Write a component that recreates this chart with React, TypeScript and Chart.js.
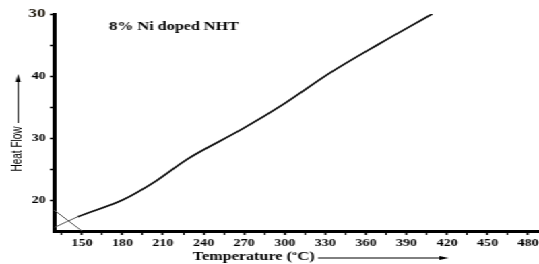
import React, { useEffect, useRef } from "react";
import { Chart, registerables } from "chart.js";

Chart.register(...registerables);

// ---- data ----
const temps = [130, 147, 180, 205, 228, 269, 300, 333.5, 370, 409];
const heatFlow = [15.6, 17.3, 20.0, 23.1, 26.6, 31.5, 35.6, 40.5, 45.2, 50.0];

// thin baseline construction line at the lower left
const baseTemps = [129.3, 150];
const baseFlow = [18.4, 15.0];

const xTicks = [135, 150, 165, 180, 195, 210, 225, 240, 255, 270, 285, 300, 315, 330, 345, 360, 375, 390, 405, 420, 435, 450, 465, 480];
const xLabelled = [150, 180, 210, 240, 270, 300, 330, 360, 390, 420, 450, 480];
const yTicks = [20, 25, 30, 35, 40, 45, 50];
const yTickValues = [20, 30, 40, 50];
const yTickLabels = ["20", "30", "40", "30"];

const TITLE = "8% Ni doped NHT";
const X_TITLE_A = "Temperature (";
const X_TITLE_SUP = "o";
const X_TITLE_B = "C)";
const Y_TITLE = "Heat Flow";

const SERIF = "'Liberation Serif', 'Times New Roman', serif";
const SANS = "'Liberation Sans', Arial, sans-serif";

const W = 400;
const H = 264;
const STRETCH = 539 / W;

const annotPlugin = {
  id: "annot",
  afterDraw(chart: any) {
    const ctx = chart.ctx as CanvasRenderingContext2D;
    const ca = chart.chartArea;
    ctx.save();
    ctx.fillStyle = "#000";
    ctx.strokeStyle = "#000";

    // inset title
    ctx.font = `bold 12px ${SERIF}`;
    ctx.textAlign = "left";
    ctx.textBaseline = "middle";
    ctx.fillText(TITLE, ca.left + 41, ca.top + 13);

    // x axis title with superscript
    ctx.font = `bold 12px ${SERIF}`;
    ctx.textBaseline = "alphabetic";
    let x = 143;
    const baseY = 260;
    ctx.fillText(X_TITLE_A, x, baseY);
    x += ctx.measureText(X_TITLE_A).width;
    ctx.font = `bold 7px ${SERIF}`;
    ctx.fillText(X_TITLE_SUP, x + 0.3, baseY - 5);
    x += ctx.measureText(X_TITLE_SUP).width + 0.6;
    ctx.font = `bold 12px ${SERIF}`;
    ctx.fillText(X_TITLE_B, x, baseY);

    // x arrow
    ctx.lineWidth = 1;
    ctx.beginPath();
    ctx.moveTo(236, 258);
    ctx.lineTo(328, 258);
    ctx.stroke();
    ctx.beginPath();
    ctx.moveTo(333, 258);
    ctx.lineTo(326, 256);
    ctx.lineTo(326, 260);
    ctx.closePath();
    ctx.fill();

    // y title rotated
    ctx.save();
    ctx.translate(13.5, 149);
    ctx.rotate(-Math.PI / 2);
    ctx.font = `10px ${SANS}`;
    ctx.textAlign = "center";
    ctx.textBaseline = "middle";
    ctx.fillText(Y_TITLE, 0, 0);
    ctx.restore();

    // y arrow
    ctx.lineWidth = 0.9;
    ctx.beginPath();
    ctx.moveTo(13.5, 123);
    ctx.lineTo(13.5, 80);
    ctx.stroke();
    ctx.beginPath();
    ctx.moveTo(13.5, 74);
    ctx.lineTo(11.6, 82);
    ctx.lineTo(15.4, 82);
    ctx.closePath();
    ctx.fill();

    ctx.restore();
  },
};

export default function App() {
  const ref = useRef<HTMLCanvasElement>(null);

  useEffect(() => {
    const canvas = ref.current!;
    const chart = new Chart(canvas, {
      type: "line",
      data: {
        datasets: [
          {
            data: temps.map((t, i) => ({ x: t, y: heatFlow[i] })),
            borderColor: "#111",
            borderWidth: 1.7,
            pointRadius: 0,
            cubicInterpolationMode: "monotone",
            segment: {
              borderWidth: (c: any) => (c.p0DataIndex === 0 ? 1 : 1.7),
              borderColor: (c: any) => (c.p0DataIndex === 0 ? "#555" : "#111"),
            },
          },
          {
            data: baseTemps.map((t, i) => ({ x: t, y: baseFlow[i] })),
            borderColor: "#555",
            borderWidth: 1,
            pointRadius: 0,
          },
        ],
      },
      options: {
        responsive: false,
        animation: false,
        devicePixelRatio: 1,
        layout: { padding: { top: 14, right: 0, left: 0, bottom: 0 } },
        plugins: {
          legend: { display: false },
          tooltip: { enabled: false },
        },
        scales: {
          x: {
            type: "linear",
            min: 129.3,
            max: 488,
            afterBuildTicks: (s: any) => {
              s.ticks = xTicks.map((v) => ({ value: v }));
            },
            afterFit: (s: any) => {
              s.height = 33;
              s.paddingLeft = 0;
              s.paddingRight = 0;
            },
            border: { display: true, color: "#000", width: 3 },
            grid: {
              drawOnChartArea: false,
              drawTicks: true,
              tickLength: 4,
              tickColor: "#000",
              tickWidth: (c: any) => (c.tick && xLabelled.includes(c.tick.value) ? 1.6 : 1.2),
            },
            ticks: {
              autoSkip: false,
              maxRotation: 0,
              padding: 2,
              color: "#000",
              font: { family: SERIF, size: 10.5, weight: "bold" },
              callback: (v: any) => (xLabelled.includes(Number(v)) ? String(v) : ""),
            },
          },
          y: {
            type: "linear",
            min: 15,
            max: 50,
            afterBuildTicks: (s: any) => {
              s.ticks = yTicks.map((v) => ({ value: v }));
            },
            afterFit: (s: any) => {
              s.width = 40;
              s.paddingTop = 0;
              s.paddingBottom = 0;
            },
            border: { display: true, color: "#000", width: 3 },
            grid: {
              drawOnChartArea: false,
              drawTicks: true,
              tickLength: 3,
              tickColor: "#000",
              tickWidth: 1.6,
            },
            ticks: {
              autoSkip: false,
              padding: 3,
              color: (c: any) => (c.tick && c.tick.value === 50 ? "#1b1408" : "#000"),
              font: (c: any) =>
                c.tick && c.tick.value === 50
                  ? { family: SERIF, size: 13, weight: "bold" }
                  : { family: SERIF, size: 10.5, weight: "bold" },
              callback: (v: any) => {
                const i = yTickValues.indexOf(Number(v));
                return i >= 0 ? yTickLabels[i] : "";
              },
            },
          },
        },
      },
      plugins: [annotPlugin],
    } as any);
    return () => chart.destroy();
  }, []);

  return (
    <div
      style={{
        position: "fixed",
        left: 0,
        top: 0,
        width: W,
        height: H,
        background: "#fff",
        transform: `scaleX(${STRETCH})`,
        transformOrigin: "0 0",
      }}
    >
      <canvas ref={ref} width={W} height={H} style={{ width: W, height: H, display: "block" }} />
    </div>
  );
}
